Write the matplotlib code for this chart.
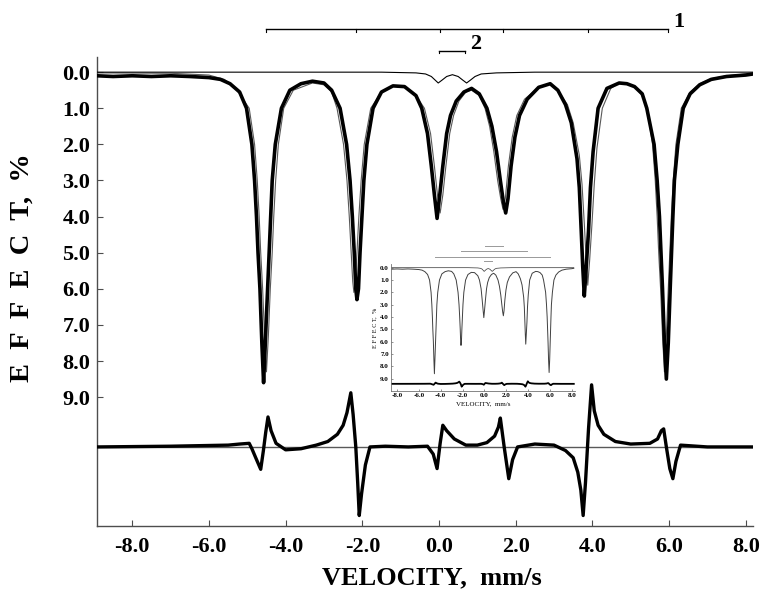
import numpy as np
import matplotlib
matplotlib.use('Agg')
from matplotlib import pyplot as plt

vel_obs = [-8.92, -8.5, -8.0, -7.5, -7.0, -6.5, -6.0, -5.7, -5.45, -5.2,
           -5.02, -4.88, -4.81, -4.76, -4.72, -4.67, -4.62, -4.575,
           -4.53, -4.47, -4.43, -4.39, -4.35, -4.27, -4.11,
           -3.89, -3.6, -3.3, -3.0, -2.8,
           -2.58, -2.41, -2.32, -2.26, -2.21, -2.17, -2.14,
           -2.10, -2.06, -2.01, -1.96, -1.88, -1.72,
           -1.5, -1.2, -0.9, -0.6,
           -0.45, -0.3, -0.2, -0.12, -0.05,
           0.02, 0.1, 0.2, 0.3, 0.45,
           0.65, 0.85, 1.05, 1.25,
           1.38, 1.5, 1.6, 1.68, 1.74,
           1.8, 1.88, 1.98, 2.1, 2.3,
           2.6, 2.9, 3.1, 3.3, 3.45,
           3.6, 3.66, 3.71, 3.75, 3.79,
           3.84, 3.9, 3.95, 4.02, 4.15,
           4.38, 4.7, 4.9, 5.1, 5.3,
           5.42, 5.61, 5.69, 5.75, 5.79, 5.83, 5.88, 5.93,
           5.98, 6.03, 6.1, 6.14, 6.23, 6.37,
           6.55, 6.8, 7.1, 7.5, 8.0, 8.19]
eff_obs = [0.1, 0.12, 0.1, 0.12, 0.1, 0.12, 0.15, 0.2, 0.32, 0.55,
           1.0, 2.0, 3.0, 4.0, 5.0, 6.0, 7.5, 8.6,
           7.5, 6.0, 5.0, 4.0, 3.0, 2.0, 1.0,
           0.5, 0.32, 0.25, 0.3, 0.5,
           1.0, 2.0, 3.0, 4.0, 5.0, 6.0, 6.3,
           6.0, 5.0, 4.0, 3.0, 2.0, 1.0,
           0.55, 0.38, 0.4, 0.65,
           1.0, 1.7, 2.6, 3.4, 4.05,
           3.4, 2.6, 1.7, 1.2, 0.8,
           0.55, 0.45, 0.6, 1.0,
           1.5, 2.2, 3.0, 3.6, 3.9,
           3.5, 2.6, 1.8, 1.2, 0.75,
           0.42, 0.32, 0.5, 0.9, 1.4,
           2.4, 3.2, 4.4, 5.4, 6.2,
           5.4, 4.4, 3.2, 2.2, 1.0,
           0.45, 0.3, 0.32, 0.4, 0.6,
           1.0, 2.0, 3.0, 4.0, 5.0, 6.0, 7.5, 8.5,
           7.5, 6.0, 4.0, 3.0, 2.0, 1.0,
           0.6, 0.35, 0.2, 0.12, 0.08, 0.05]

# fitted envelope
vel_fit = [-8.92, -7.0, -6.0, -5.6, -5.3,
           -4.95, -4.81, -4.74, -4.69, -4.65, -4.6, -4.55, -4.5,
           -4.45, -4.4, -4.35, -4.31, -4.26, -4.19, -4.05,
           -3.8, -3.3, -3.0, -2.8,
           -2.66, -2.49, -2.40, -2.34, -2.29, -2.25, -2.22,
           -2.18, -2.14, -2.09, -2.03, -1.95, -1.78,
           -1.5, -1.2, -0.9, -0.6,
           -0.38, -0.22, -0.12, -0.04, 0.03, 0.1, 0.18, 0.28, 0.38, 0.52,
           0.7, 0.85, 1.05,
           1.2, 1.32, 1.43, 1.53, 1.61, 1.67, 1.73, 1.81, 1.91, 2.03, 2.23,
           2.6, 2.9, 3.1,
           3.35, 3.5, 3.66, 3.73, 3.79, 3.84, 3.88, 3.93, 3.99, 4.05, 4.12, 4.26, 4.48,
           4.7, 4.9, 5.1, 5.3,
           5.43, 5.57, 5.64, 5.69, 5.73, 5.78, 5.83, 5.88,
           5.93, 5.98, 6.02, 6.06, 6.11, 6.18, 6.32,
           6.55, 6.8, 7.1, 7.5, 8.0, 8.19]
eff_fit = [0.02, 0.03, 0.08, 0.2, 0.45,
           1.0, 2.0, 3.0, 4.0, 5.0, 6.0, 7.3, 8.3,
           7.3, 6.0, 5.0, 4.0, 3.0, 2.0, 1.0,
           0.5, 0.3, 0.35, 0.55,
           1.0, 2.0, 3.0, 4.0, 5.0, 5.8, 6.1,
           5.8, 5.0, 4.0, 3.0, 2.0, 1.0,
           0.55, 0.38, 0.4, 0.65,
           1.0, 1.7, 2.6, 3.4, 3.9, 3.4, 2.6, 1.7, 1.2, 0.8,
           0.55, 0.5, 0.65,
           1.0, 1.5, 2.2, 3.0, 3.5, 3.8, 3.5, 2.6, 1.8, 1.2, 0.75,
           0.42, 0.32, 0.5,
           0.9, 1.4, 2.3, 3.1, 4.2, 5.2, 5.9, 5.2, 4.2, 3.1, 2.1, 1.0, 0.45,
           0.3, 0.32, 0.4, 0.65,
           1.0, 2.0, 3.0, 4.0, 5.0, 6.0, 7.3, 8.3,
           7.3, 6.0, 5.0, 4.0, 3.0, 2.0, 1.0,
           0.55, 0.32, 0.18, 0.1, 0.05, 0.03]

# doublet (component 2) curve drawn on the zero line
vel_dbl = [-8.92, -1.5, -0.6, -0.35, -0.2, -0.1, -0.02, 0.08, 0.2, 0.35,
           0.5, 0.62, 0.72, 0.82, 0.94, 1.1, 1.5, 2.5, 8.19]
eff_dbl = [0.0, 0.0, 0.02, 0.05, 0.12, 0.22, 0.3, 0.22, 0.12, 0.07,
           0.12, 0.22, 0.3, 0.22, 0.12, 0.05, 0.02, 0.0, 0.0]

# residual (fit - data), positive = upwards
vel_res = [-8.92, -7.0, -5.5, -5.2, -4.95, -4.88, -4.78, -4.65, -4.58, -4.52,
           -4.46, -4.38, -4.25, -4.0, -3.6, -3.2, -2.9, -2.65, -2.5, -2.4,
           -2.3, -2.24, -2.17, -2.12, -2.08, -2.02, -1.92, -1.8, -1.4, -0.8,
           -0.3, -0.15, -0.05, 0.03, 0.1, 0.2, 0.4, 0.7, 1.0, 1.25,
           1.45, 1.55, 1.6, 1.7, 1.82, 1.92, 2.05, 2.5, 3.0, 3.3,
           3.5, 3.62, 3.7, 3.76, 3.82, 3.9, 3.98, 4.05, 4.15, 4.3,
           4.6, 5.0, 5.5, 5.7, 5.8, 5.86, 5.93, 6.02, 6.1, 6.18,
           6.3, 7.0, 8.19]
res = [0.0, 0.02, 0.05, 0.08, 0.1, -0.05, -0.3, -0.62, -0.1, 0.4,
       0.83, 0.45, 0.1, -0.08, -0.05, 0.05, 0.15, 0.35, 0.6, 0.95,
       1.5, 0.9, 0.0, -1.0, -1.9, -1.3, -0.5, 0.0, 0.02, 0.0,
       0.02, -0.2, -0.6, 0.1, 0.6, 0.45, 0.22, 0.05, 0.05, 0.12,
       0.3, 0.55, 0.8, 0.0, -0.88, -0.35, 0.0, 0.08, 0.05, -0.1,
       -0.3, -0.7, -1.2, -1.9, -1.0, 0.5, 1.72, 1.0, 0.6, 0.35,
       0.15, 0.08, 0.1, 0.22, 0.45, 0.5, 0.0, -0.6, -0.88, -0.4,
       0.05, 0.0, 0.0]

# line positions for the stick diagrams
sextet1 = [-4.52, -2.17, 0.03, 1.68, 3.88, 5.97]
doublet2 = [0.0, 0.69]

x_ticks = [-8, -6, -4, -2, 0, 2, 4, 6, 8]
y_ticks = [0, 1, 2, 3, 4, 5, 6, 7, 8, 9]

SERIF = 'Liberation Serif'
res_base = 10.38

fig = plt.figure(figsize=(7.61, 5.92), dpi=100)
ax = fig.add_axes([97/761, 1-526/592, 656/761, 469/592])

ax.plot(vel_fit, eff_fit, color='0.35', lw=0.8, zorder=2)
ax.plot(vel_obs, eff_obs, color='black', lw=2.6, zorder=3,
        solid_joinstyle='round')
ax.plot(vel_dbl, eff_dbl, color='black', lw=0.8, zorder=4)
ax.axhline(res_base, color='0.35', lw=1.0, zorder=2)
ax.plot(vel_res, [res_base - r for r in res], color='black', lw=2.4,
        zorder=3, solid_joinstyle='round')

ax.set_xlim(-8.92, 8.19)
ax.set_ylim(12.57, -0.42)
ax.set_xticks(x_ticks)
ax.set_xticklabels(['%.1f' % t for t in x_ticks])
ax.set_yticks(y_ticks)
ax.set_yticklabels(['%.1f' % t for t in y_ticks])
ax.tick_params(direction='in', length=4, width=0.8, color='0.3')
ax.tick_params(axis='x', pad=8)
ax.tick_params(axis='y', pad=5)
for lab in ax.get_xticklabels() + ax.get_yticklabels():
    lab.set_fontfamily(SERIF)
    lab.set_fontweight('bold')
    lab.set_fontsize(16)
for s in ['top', 'right']:
    ax.spines[s].set_visible(False)
for s in ['left', 'bottom']:
    ax.spines[s].set_color('0.3')
    ax.spines[s].set_linewidth(1.0)

# stick diagram 1
y1 = -1.2
ax.plot([sextet1[0], sextet1[-1]], [y1, y1], color='black', lw=1.0,
        clip_on=False)
for p in sextet1:
    ax.plot([p, p], [y1, y1 + 0.09], color='black', lw=0.8, clip_on=False)
ax.text(6.1, y1 - 0.2, '1', fontfamily=SERIF, fontweight='bold',
        fontsize=16, ha='left', va='center')

# stick diagram 2
y2 = -0.59
ax.plot(doublet2, [y2, y2], color='black', lw=1.0, clip_on=False)
for p in doublet2:
    ax.plot([p, p], [y2, y2 + 0.07], color='black', lw=0.8, clip_on=False)
ax.text(0.82, y2 - 0.2, '2', fontfamily=SERIF, fontweight='bold',
        fontsize=16, ha='left', va='center')

fig.text(432/761, 1-578/592, 'VELOCITY,  mm/s', fontfamily=SERIF,
         fontweight='bold', fontsize=19, ha='center', va='center')
fig.text(22/761, 1-268/592, 'E  F  F  E  C  T,  %', fontfamily=SERIF,
         fontweight='bold', fontsize=20.5, ha='center', va='center',
         rotation=90)

# inset: full spectrum overview
ins = fig.add_axes([391/761, 1-391/592, 184/761, 127/592])
ins.plot(vel_obs, eff_obs, color='0.25', lw=0.7)
ins.plot(vel_dbl, eff_dbl, color='0.2', lw=0.5)
ins.plot(vel_res, [9.42 - 0.12 * r for r in res], color='black', lw=1.3)
ins.set_xlim(-8.55, 8.3)
ins.set_ylim(10.0, -0.3)
ins.set_xticks(x_ticks)
ins.set_xticklabels(['%.1f' % t for t in x_ticks])
ins.set_yticks(y_ticks)
ins.set_yticklabels(['%.1f' % t for t in y_ticks])
ins.tick_params(direction='in', length=1.5, width=0.5, color='0.4', pad=1.5)
for lab in ins.get_xticklabels() + ins.get_yticklabels():
    lab.set_fontfamily(SERIF)
    lab.set_fontweight('bold')
    lab.set_fontsize(5)
for s in ['top', 'right']:
    ins.spines[s].set_visible(False)
for s in ['left', 'bottom']:
    ins.spines[s].set_color('0.45')
    ins.spines[s].set_linewidth(0.6)
ins.set_xlabel('VELOCITY,  mm/s', fontfamily=SERIF, fontsize=5, labelpad=2)
ins.set_ylabel('E F F E C T,  %', fontfamily=SERIF, fontsize=4.5, labelpad=2)

bars = [(sextet1[2], sextet1[3], -1.77), (sextet1[1], sextet1[4], -1.34),
        (sextet1[0], sextet1[5], -0.88), (doublet2[0], doublet2[1], -0.55)]
for a, b, yy in bars:
    ins.plot([a, b], [yy, yy], color='0.6', lw=0.7, clip_on=False)

fig.savefig('out.png', dpi=100)
